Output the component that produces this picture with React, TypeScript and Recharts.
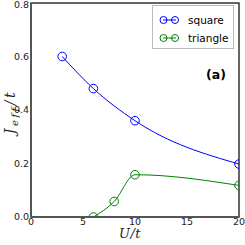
import { LineChart, Line, XAxis, YAxis, ReferenceArea } from "recharts"

const squareU = [3, 6, 10, 20]
const squareJ = [0.6, 0.48, 0.36, 0.198]
const triangleU = [6, 8, 10, 20]
const triangleJ = [0.0, 0.058, 0.158, 0.118]
const xTicks = [0, 5, 10, 15, 20]
const yTicks = [0, 0.2, 0.4, 0.6, 0.8]

const BLUE = "#0000ff"
const GREEN = "#008000"

const squareData = squareU.map((u, i) => ({ u, j: squareJ[i] }))
const triangleData = triangleU.map((u, i) => ({ u, j: triangleJ[i] }))

const series = [
  { name: "square", color: BLUE },
  { name: "triangle", color: GREEN },
]

const tickStyle = { fontSize: 9.5, fontFamily: "DejaVu Sans", fill: "#222" }

function LegendBox() {
  return (
    <div
      style={{
        position: "absolute",
        left: 152,
        top: 5,
        border: "1px solid #bbb",
        background: "#fff",
        width: 82,
        height: 44,
        boxSizing: "border-box",
        paddingTop: 5,
        fontFamily: "DejaVu Sans",
        fontSize: 10.5,
      }}
    >
      {series.map((s) => (
        <div key={s.name} style={{ display: "flex", alignItems: "center", height: 18 }}>
          <svg width={30} height={10} style={{ marginLeft: 3 }}>
            <line x1={7} y1={5} x2={20} y2={5} stroke={s.color} strokeWidth={1} />
            <circle cx={7.5} cy={5} r={3.5} fill="none" stroke={s.color} strokeWidth={1} />
            <circle cx={19} cy={5} r={3.5} fill="none" stroke={s.color} strokeWidth={1} />
          </svg>
          <span style={{ color: "#000", marginLeft: 2 }}>{s.name}</span>
        </div>
      ))}
    </div>
  )
}

const titleFont = { fontFamily: "DejaVu Serif", fontStyle: "italic", color: "#222" } as const

// axis titles as html on top of the chart
function AxisTitles() {
  return (
    <>
      <div
        style={{
          ...titleFont,
          position: "absolute",
          left: 100,
          width: 60,
          top: 228,
          textAlign: "center",
          fontSize: 13,
          letterSpacing: 0.5,
          lineHeight: "11px",
        }}
      >
        U/t
      </div>
      <div
        style={{
          ...titleFont,
          position: "absolute",
          left: 10 - 40,
          top: 112 - 9,
          width: 80,
          height: 18,
          lineHeight: "18px",
          textAlign: "center",
          fontSize: 14,
          letterSpacing: 2.5,
          whiteSpace: "nowrap",
          transform: "rotate(-90deg)",
          transformOrigin: "40px 9px",
        }}
      >
        J<span style={{ fontSize: 10, position: "relative", top: 3 }}>eff</span>/t
      </div>
    </>
  )
}

export default function App() {
  return (
    <div style={{ position: "relative", width: 245, height: 245, overflow: "hidden" }}>
      <style>{"body{margin:0}"}</style>
      <LineChart width={245} height={245} margin={{ top: 3, right: 6, bottom: 0, left: 0 }}>
        <ReferenceArea x1={0} x2={20} y1={0} y2={0.8} fill="none" stroke="#333" strokeWidth={1.5} />
        <XAxis
          type="number"
          dataKey="u"
          domain={[0, 20]}
          ticks={xTicks}
          height={28}
          tickSize={0}
          tickMargin={1}
          axisLine={{ stroke: "#555", strokeWidth: 2 }}
          tickLine={false}
          tick={tickStyle}
          allowDataOverflow
        />
        <YAxis
          type="number"
          domain={[0, 0.8]}
          ticks={yTicks}
          width={31}
          tickSize={0}
          tickMargin={2}
          axisLine={{ stroke: "#555", strokeWidth: 2 }}
          tickLine={false}
          tickFormatter={(v: number) => v.toFixed(1)}
          tick={tickStyle}
          allowDataOverflow
        />
        <Line
          data={squareData}
          dataKey="j"
          name="square"
          type="monotone"
          stroke={BLUE}
          strokeWidth={1}
          dot={{ r: 4.3, fill: "none", stroke: BLUE, strokeWidth: 1 }}
          isAnimationActive={false}
        />
        <Line
          data={triangleData}
          dataKey="j"
          name="triangle"
          type="monotone"
          stroke={GREEN}
          strokeWidth={1}
          dot={{ r: 4.3, fill: "none", stroke: GREEN, strokeWidth: 1 }}
          isAnimationActive={false}
        />
      </LineChart>
      <AxisTitles />
      <LegendBox />
      <div
        style={{
          position: "absolute",
          left: 206,
          top: 67,
          fontFamily: "DejaVu Sans",
          fontWeight: "bold",
          fontSize: 12.5,
          color: "#000",
        }}
      >
        (a)
      </div>
    </div>
  )
}
